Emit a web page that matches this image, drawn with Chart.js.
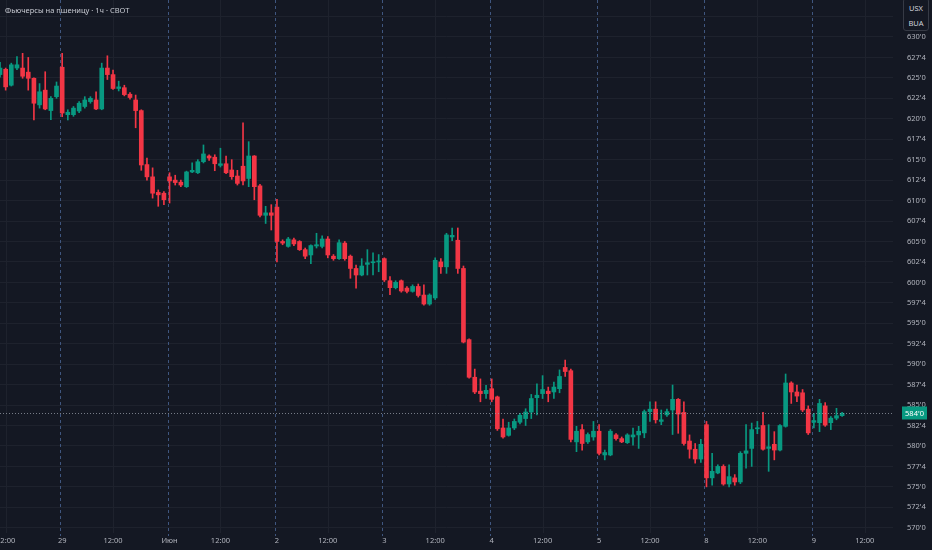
<!DOCTYPE html>
<html>
<head>
<meta charset="utf-8">
<title>Фьючерсы на пшеницу</title>
<script src="https://cdn.jsdelivr.net/npm/chart.js@4.4.1/dist/chart.umd.min.js"></script>
<style>
    html, body { margin: 0; padding: 0; background: #141823; }
    #wrap { position: relative; width: 932px; height: 550px; overflow: hidden; }
    #title {
        position: absolute; left: 5px; top: 5px;
        font: 7.5px "Noto Sans", sans-serif; color: #c8cbd3; white-space: nowrap;
    }
    #symbol {
        position: absolute; left: 903px; top: -2px; width: 26px; height: 33px;
        background: #141823; border: 1px solid #363a45; border-radius: 3px;
        font: 7.5px "Noto Sans", sans-serif; color: #d1d4dc; text-align: center;
        line-height: 15px; padding-top: 2px; box-sizing: border-box;
    }
</style>
</head>
<body>
<div id="wrap">
    <canvas id="priceChart" width="932" height="550"></canvas>
    <div id="title">Фьючерсы на пшеницу · 1ч · CBOT</div>
    <div id="symbol">USX<br>BUA</div>
</div>
<script>
// --- trading days and session hours (1h bars) ---
const dayNames = ['28', '29', 'Июн', '2', '3', '4', '5', '8', '9'];
const firstDayHours = [11, 12, 13, 14, 15, 16, 17, 18, 19, 20, 21];
const sessionHours = [3, 4, 5, 6, 7, 8, 9, 10, 11, 12, 13, 14, 15, 16, 17, 18, 19, 20, 21];

// --- OHLC values ---
const opens = [
    625.4, 626.05, 624.1, 626.2, 626.2, 625.7, 624.95, 621.7, 623.5, 621.0, 622.7,
    626.3, 620.5, 620.5, 620.95, 621.5, 622.1, 622.3, 621.2, 626.2, 625.4, 623.7, 623.8, 623.0, 622.3, 621.0, 614.4, 612.9, 611.0, 610.9,
    612.9, 612.5, 612.25, 611.7, 613.5, 613.4, 614.75, 615.45, 615.3, 614.3, 614.5, 613.74, 613.0, 614.2, 612.7, 615.45, 611.8, 608.2, 608.5,
    609.2, 605.0, 604.4, 605.2, 605.0, 604.0, 603.35, 604.45, 604.4, 605.3, 603.2, 602.9, 604.8, 603.2, 601.7, 600.9, 602.2, 602.4, 602.5,
    602.9, 600.2, 599.35, 600.2, 599.3, 598.9, 599.5, 598.45, 597.35, 598.1, 602.5, 601.9, 605.55, 605.15, 601.7, 593.0, 588.4, 586.7, 586.4,
    587.0, 586.0, 582.2, 581.3, 582.2, 582.9, 583.35, 584.15, 585.9, 586.4, 586.7, 586.6, 587.0, 589.6, 589.2, 580.5, 582.0, 580.5, 581.1,
    581.8, 578.9, 578.9, 581.35, 580.9, 580.4, 581.1, 581.35, 581.6, 584.2, 584.5, 583.0, 583.8, 584.4, 585.7, 584.1, 580.6, 579.6, 578.4,
    582.6, 576.1, 576.7, 577.5, 575.35, 576.1, 575.6, 579.1, 579.7, 582.1, 582.5, 579.7, 580.2, 579.5, 582.4, 587.7, 586.6, 586.5, 584.5,
    582.9, 582.85, 584.9, 582.85, 583.4, 583.7
];
const highs = [
    626.9, 626.2, 626.8, 627.6, 628.0, 627.5, 625.0, 624.3, 625.75, 622.7, 624.5,
    628.0, 621.1, 621.5, 622.1, 622.7, 622.7, 623.3, 626.8, 627.7, 625.95, 624.6, 624.1, 623.2, 622.9, 621.1, 615.2, 614.0, 611.3, 611.1,
    613.4, 613.1, 612.5, 613.6, 614.6, 615.0, 616.8, 615.6, 615.6, 616.4, 615.45, 615.0, 613.7, 619.5, 617.2, 615.5, 612.0, 609.3, 609.5,
    610.15, 605.2, 605.5, 605.4, 605.1, 604.2, 604.6, 606.0, 605.7, 605.6, 603.4, 605.2, 605.0, 603.35, 602.1, 602.9, 604.0, 603.6, 603.4,
    603.0, 600.7, 600.2, 600.3, 599.5, 599.7, 599.8, 599.7, 598.6, 603.0, 602.9, 606.0, 606.65, 606.65, 602.0, 593.1, 589.4, 588.2, 587.4,
    588.2, 586.1, 583.3, 582.9, 583.3, 584.0, 584.55, 586.3, 587.6, 588.6, 587.2, 587.8, 589.3, 590.5, 589.4, 582.4, 582.6, 581.6, 583.0,
    582.6, 579.5, 582.0, 581.5, 581.1, 581.5, 582.2, 582.4, 584.4, 585.4, 585.4, 584.4, 584.5, 587.45, 585.8, 585.4, 581.35, 580.3, 580.8,
    583.0, 579.1, 577.7, 577.7, 577.7, 576.5, 579.3, 582.6, 582.8, 583.0, 584.1, 582.6, 581.75, 582.6, 588.8, 587.85, 587.45, 586.9, 584.9,
    584.0, 585.7, 585.3, 583.6, 584.6, 584.1
];
const lows = [
    625.1, 623.5, 624.0, 626.0, 624.95, 623.5, 619.85, 621.3, 621.1, 619.9, 622.5,
    620.25, 619.85, 620.3, 620.75, 621.3, 621.9, 621.1, 621.1, 624.8, 623.6, 623.4, 622.8, 622.4, 618.9, 613.7, 612.5, 610.3, 609.3, 609.5,
    609.7, 611.9, 611.7, 611.6, 613.4, 613.3, 614.6, 614.9, 613.65, 614.1, 613.3, 612.6, 611.9, 611.9, 611.7, 610.1, 608.0, 607.2, 606.4,
    602.5, 604.6, 604.3, 604.5, 603.9, 602.9, 602.3, 604.2, 604.2, 603.0, 602.7, 602.8, 602.7, 600.5, 599.3, 600.8, 600.9, 600.9, 601.3,
    600.1, 598.5, 599.2, 598.8, 598.7, 598.8, 598.2, 597.2, 597.2, 597.9, 601.1, 601.1, 605.1, 601.1, 592.6, 588.3, 586.4, 585.4, 585.8,
    585.4, 581.9, 580.95, 581.2, 582.0, 582.7, 582.5, 583.35, 583.8, 585.8, 585.4, 585.8, 586.5, 588.5, 580.5, 579.3, 579.5, 580.3, 580.7,
    578.9, 578.3, 578.8, 580.7, 580.4, 580.3, 580.1, 579.7, 581.0, 583.0, 582.8, 582.6, 583.6, 581.4, 581.55, 580.1, 578.5, 577.9, 578.0,
    575.0, 575.2, 576.6, 575.2, 575.0, 575.2, 575.4, 577.3, 577.5, 581.5, 579.5, 576.9, 578.3, 579.4, 582.3, 585.2, 585.4, 584.2, 581.4,
    582.2, 581.75, 582.4, 582.0, 583.2, 583.6
];
const closes = [
    626.2, 623.9, 626.6, 626.6, 625.2, 624.95, 621.9, 623.3, 621.2, 622.5, 624.0,
    620.7, 620.8, 621.3, 621.9, 622.3, 622.5, 621.2, 626.2, 625.4, 623.7, 623.9, 622.95, 622.6, 621.0, 614.35, 612.9, 610.9, 610.7, 610.1,
    612.4, 612.2, 611.9, 613.5, 613.7, 614.75, 615.7, 615.2, 614.5, 614.5, 613.4, 612.92, 612.1, 612.4, 615.45, 611.7, 608.2, 608.5, 608.2,
    605.0, 604.8, 605.3, 604.7, 604.0, 603.2, 604.5, 604.6, 605.3, 603.35, 602.9, 604.85, 602.9, 601.7, 600.9, 602.0, 602.4, 602.5, 602.6,
    600.3, 599.35, 600.0, 598.95, 598.9, 599.5, 598.4, 597.35, 598.45, 602.7, 601.9, 605.8, 605.75, 601.7, 592.7, 588.4, 586.6, 586.4, 586.8,
    585.7, 582.1, 581.1, 582.2, 583.0, 583.75, 584.15, 585.8, 586.2, 586.9, 586.4, 587.2, 588.5, 589.1, 580.8, 581.8, 580.3, 581.4, 581.8,
    579.1, 579.2, 581.8, 580.9, 580.5, 581.35, 581.35, 581.8, 584.2, 584.5, 583.2, 583.2, 584.2, 585.7, 583.9, 580.3, 579.6, 578.4, 580.2,
    576.1, 576.9, 577.5, 575.35, 576.25, 575.6, 579.1, 579.4, 582.0, 582.2, 579.6, 579.9, 579.5, 582.5, 587.7, 586.6, 586.1, 584.4, 581.6,
    583.1, 585.2, 582.55, 583.4, 583.7, 584.0
];

// --- y axis: 2.5 step ticks, quoted in eighths ---
const priceMin = 569.36;
const priceMax = 634.52;
const priceStep = 2.5;

const UP = '#089981';
const DOWN = '#f23645';

// --- build categories and tick texts from the session table ---
const labels = [];
const tickText = [];
const dayStarts = [];
const noonBars = [];
dayNames.forEach((day, k) => {
    const hours = k === 0 ? firstDayHours : sessionHours;
    hours.forEach((h, j) => {
        if (j === 0 && k > 0) {
            tickText.push(day);
            dayStarts.push(labels.length);
        } else if (h === 12) {
            tickText.push('12:00');
            noonBars.push(labels.length);
        } else {
            tickText.push('');
        }
        labels.push(day + ' ' + String(h).padStart(2, '0') + ':00');
    });
});
const lastIndex = 158;

function formatPrice(v) {
    const whole = Math.floor(v + 1e-9);
    const eighths = Math.round((v - whole) * 8);
    return whole + "'" + eighths;
}

function barColor(ctx) {
    const i = ctx.dataIndex;
    return closes[i] >= opens[i] ? UP : DOWN;
}

// --- vertical separators, last price line and badge ---
const overlayPlugin = {
    id: 'overlay',
    beforeDatasetsDraw(chart) {
        const { ctx, chartArea, scales } = chart;
        const x = scales.x;
        ctx.save();
        ctx.lineWidth = 1;
        ctx.strokeStyle = '#1e222d';
        noonBars.forEach(i => {
            if (i > lastIndex) return;
            const px = Math.round(x.getPixelForValue(i)) + 0.5;
            ctx.beginPath();
            ctx.moveTo(px, chartArea.top);
            ctx.lineTo(px, chartArea.bottom);
            ctx.stroke();
        });
        ctx.strokeStyle = 'rgba(74, 102, 150, 0.8)';
        ctx.setLineDash([3, 3]);
        dayStarts.forEach(i => {
            if (i > lastIndex) return;
            const px = Math.round(x.getPixelForValue(i)) - 1.5;
            ctx.beginPath();
            ctx.moveTo(px, chartArea.top);
            ctx.lineTo(px, chartArea.bottom + 3);
            ctx.stroke();
        });
        ctx.restore();
    },
    afterDraw(chart) {
        const { ctx, chartArea, scales } = chart;
        const last = closes[closes.length - 1];
        const py = Math.round(scales.y.getPixelForValue(last)) + 0.5;
        ctx.save();
        ctx.strokeStyle = 'rgba(160, 166, 178, 0.7)';
        ctx.lineWidth = 1;
        ctx.setLineDash([1, 2]);
        ctx.beginPath();
        ctx.moveTo(chartArea.left, py);
        ctx.lineTo(chartArea.right, py);
        ctx.stroke();
        ctx.setLineDash([]);
        ctx.fillStyle = UP;
        ctx.fillRect(chartArea.right + 9, py - 7, 25, 13);
        ctx.fillStyle = '#ffffff';
        ctx.font = '7.5px "Noto Sans", sans-serif';
        ctx.textAlign = 'center';
        ctx.textBaseline = 'middle';
        ctx.fillText(formatPrice(last), chartArea.right + 21.5, py);
        ctx.restore();
    }
};

const wickData = lows.map((l, i) => [l, highs[i]]);
const bodyData = opens.map((o, i) => [o, closes[i]]);

new Chart(document.getElementById('priceChart'), {
    type: 'bar',
    data: {
        labels: labels,
        datasets: [
            { label: 'wick', data: wickData, backgroundColor: barColor, barThickness: 1, grouped: false, order: 2 },
            { label: 'body', data: bodyData, backgroundColor: barColor, barThickness: 4, grouped: false, minBarLength: 1, order: 1 }
        ]
    },
    options: {
        responsive: false,
        animation: false,
        layout: { padding: 0 },
        plugins: { legend: { display: false }, tooltip: { enabled: false } },
        scales: {
            x: {
                type: 'category',
                offset: false,
                min: 0,
                max: lastIndex,
                grid: { display: false, drawTicks: false },
                border: { display: false },
                ticks: {
                    autoSkip: false, maxRotation: 0, padding: 3,
                    color: '#b2b5be', font: { size: 7.5, family: 'Noto Sans' },
                    callback: (v) => tickText[v]
                },
                afterFit: (s) => { s.height = 17; s.paddingLeft = 0; s.paddingRight = 0; }
            },
            y: {
                position: 'right',
                min: priceMin,
                max: priceMax,
                grid: { color: '#1e222d', drawTicks: false },
                border: { display: false },
                ticks: {
                    stepSize: priceStep, includeBounds: false, padding: 14,
                    color: '#b2b5be', font: { size: 7.5, family: 'Noto Sans' },
                    callback: (v) => formatPrice(v)
                },
                afterFit: (s) => { s.width = 39; s.paddingTop = 0; s.paddingBottom = 0; }
            }
        }
    },
    plugins: [overlayPlugin]
});
</script>
</body>
</html>
